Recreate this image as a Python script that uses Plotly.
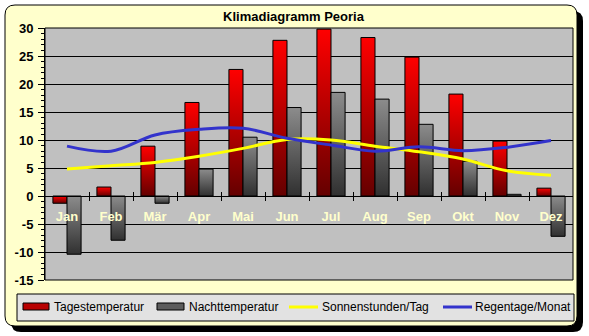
import plotly.graph_objects as go

# ---- data -----------------------------------------------------------
months = ["Jan", "Feb", "Mär", "Apr", "Mai", "Jun",
          "Jul", "Aug", "Sep", "Okt", "Nov", "Dez"]
tagestemperatur = [-1.3, 1.6, 8.9, 16.7, 22.6, 27.8, 29.8, 28.3, 24.8, 18.2, 9.8, 1.4]
nachttemperatur = [-10.4, -7.9, -1.3, 4.8, 10.5, 15.8, 18.5, 17.3, 12.8, 6.2, 0.3, -7.2]
sonnenstunden = [4.8, 5.4, 6.0, 7.1, 8.5, 10.1, 10.0, 8.9, 7.9, 6.6, 4.5, 3.7]
regentage = [8.9, 8.0, 10.9, 11.9, 12.1, 10.3, 9.1, 8.0, 8.8, 8.1, 8.7, 9.9]
series_names = ["Tagestemperatur", "Nachttemperatur",
                "Sonnenstunden/Tag", "Regentage/Monat"]
y_tick_values = [-15, -10, -5, 0, 5, 10, 15, 20, 25, 30]
y_tick_labels = ["-15", "-10", "-5", "0", "5", "10", "15", "20", "25", "30"]
title_text = "Klimadiagramm Peoria"

# ---- page geometry (pixels) -----------------------------------------
W, H = 589, 336
ML, MR, MT, MB = 45, 16, 28, 56
PW, PH = W - ML - MR, H - MT - MB
Y_MIN, Y_MAX = y_tick_values[0], y_tick_values[-1]


def px(x):
    """page pixel x -> paper fraction"""
    return (x - ML) / PW


def py(y):
    """page pixel y -> paper fraction"""
    return (H - MB - y) / PH


def rounded_path(x0, y0, x1, y1, r):
    return (f"M {px(x0 + r)},{py(y0)} L {px(x1 - r)},{py(y0)} "
            f"Q {px(x1)},{py(y0)} {px(x1)},{py(y0 + r)} "
            f"L {px(x1)},{py(y1 - r)} Q {px(x1)},{py(y1)} {px(x1 - r)},{py(y1)} "
            f"L {px(x0 + r)},{py(y1)} Q {px(x0)},{py(y1)} {px(x0)},{py(y1 - r)} "
            f"L {px(x0)},{py(y0 + r)} Q {px(x0)},{py(y0)} {px(x0 + r)},{py(y0)} Z")


FONT = "Liberation Sans, Arial, sans-serif"
RED_GRADIENT = [[0, "#640000"], [1, "#FF0000"]]
GRAY_GRADIENT = [[0, "#303030"], [1, "#8C8C8C"]]
BAR_W = 0.32  # bar width in category units

idx = list(range(len(months)))
bounds = [i + 0.5 for i in idx[:-1]]

fig = go.Figure()


def add_bar(i, value, left, colorscale):
    x0 = i - BAR_W if left else i
    x1 = x0 + BAR_W
    fig.add_trace(go.Scatter(
        x=[x0, x1, x1, x0, x0], y=[0, 0, value, value, 0],
        mode="lines", fill="toself",
        fillgradient=dict(type="vertical", colorscale=colorscale,
                          start=min(0, value), stop=max(0, value)),
        line=dict(color="black", width=1),
        showlegend=False, hoverinfo="skip"))


for i, v in enumerate(tagestemperatur):
    add_bar(i, v, True, RED_GRADIENT)
for i, v in enumerate(nachttemperatur):
    add_bar(i, v, False, GRAY_GRADIENT)

fig.add_trace(go.Scatter(
    x=idx, y=sonnenstunden, name=series_names[2], mode="lines",
    line=dict(color="#FFFF00", width=3, shape="spline", smoothing=1),
    xaxis="x2", showlegend=False, hoverinfo="skip"))
fig.add_trace(go.Scatter(
    x=idx, y=regentage, name=series_names[3], mode="lines",
    line=dict(color="#3333CC", width=3, shape="spline", smoothing=1),
    xaxis="x2", showlegend=False, hoverinfo="skip"))

# ---- decoration: frame, shadow, plot area, legend -------------------
shapes = [
    dict(type="path", path=rounded_path(11, 11, 583, 332, 10), xref="paper", yref="paper",
         fillcolor="black", line=dict(width=0), layer="below"),
    dict(type="path", path=rounded_path(5, 5, 577, 326, 10), xref="paper", yref="paper",
         fillcolor="#FFFFCC", line=dict(color="black", width=1), layer="below"),
    dict(type="rect", x0=0, x1=1, y0=0, y1=1, xref="paper", yref="paper",
         fillcolor="#C0C0C0", line=dict(width=0), layer="below"),
    dict(type="rect", x0=0, x1=1, y0=0, y1=1, xref="paper", yref="paper",
         fillcolor="rgba(0,0,0,0)", line=dict(color="black", width=1), layer="above"),
    # legend box
    dict(type="rect", x0=px(17), x1=px(574), y0=py(321), y1=py(294), xref="paper", yref="paper",
         fillcolor="#E2E2E2", line=dict(color="black", width=1), layer="below"),
    # legend keys
    dict(type="rect", x0=px(23), x1=px(49), y0=py(310), y1=py(303), xref="paper", yref="paper",
         fillcolor="#B80000", line=dict(color="black", width=1)),
    dict(type="rect", x0=px(157), x1=px(184), y0=py(310), y1=py(303), xref="paper", yref="paper",
         fillcolor="#5C5C5C", line=dict(color="black", width=1)),
    dict(type="line", x0=px(289), x1=px(318), y0=py(307), y1=py(307), xref="paper", yref="paper",
         line=dict(color="#FFFF00", width=3)),
    dict(type="line", x0=px(443), x1=px(472), y0=py(307), y1=py(307), xref="paper", yref="paper",
         line=dict(color="#3333CC", width=3)),
]

legend_text_x = [52, 187, 320, 473]
annotations = [
    dict(text=name, x=px(tx), y=py(307), xref="paper", yref="paper",
         xanchor="left", yanchor="middle", showarrow=False,
         font=dict(family=FONT, size=12, color="black"))
    for name, tx in zip(series_names, legend_text_x)
]

zero_pos = (0 - Y_MIN) / (Y_MAX - Y_MIN)

fig.update_layout(
    width=W, height=H, autosize=False,
    margin=dict(l=ML, r=MR, t=MT, b=MB, pad=0),
    paper_bgcolor="white", plot_bgcolor="#C0C0C0",
    showlegend=False, hovermode=False,
    title=dict(text=title_text, x=293.5 / W, xref="container", xanchor="center",
               y=1 - 16.5 / H, yref="container", yanchor="middle",
               font=dict(family=FONT, size=13, color="black", weight="bold")),
    xaxis=dict(range=[-0.5, 11.5], anchor="free", position=zero_pos,
               showline=True, linecolor="black", linewidth=1,
               showgrid=False, zeroline=False,
               tickmode="array", tickvals=idx, ticktext=months, ticks="",
               tickfont=dict(family=FONT, size=13, color="#FFFFCC", weight="bold"),
               ticklabelstandoff=8,
               minor=dict(tickmode="array", tickvals=bounds, ticks="outside",
                          ticklen=4, tickcolor="black", showgrid=False)),
    xaxis2=dict(range=[-0.5, 11.5], overlaying="x", anchor="free", position=zero_pos,
                showline=False, showgrid=False, zeroline=False,
                tickmode="array", tickvals=bounds, ticks="inside", ticklen=4,
                tickcolor="black", showticklabels=False),
    yaxis=dict(range=[Y_MIN, Y_MAX], tickmode="array", tickvals=y_tick_values,
               ticktext=y_tick_labels,
               showgrid=True, gridcolor="black", gridwidth=1, zeroline=False,
               showline=True, linecolor="black", linewidth=1,
               ticks="outside", ticklen=6, tickcolor="black",
               tickfont=dict(family=FONT, size=13, color="black", weight="bold"),
               ticklabelstandoff=2,
               minor=dict(dtick=1, ticks="outside", ticklen=3, tickcolor="black",
                          showgrid=False)),
    shapes=shapes,
    annotations=annotations,
)

fig.write_html("out.html")
